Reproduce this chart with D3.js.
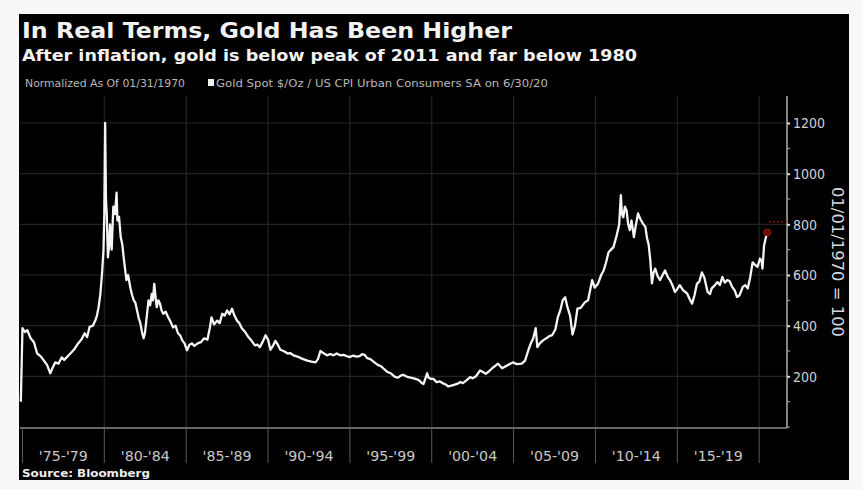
<!DOCTYPE html>
<html>
<head>
<meta charset="utf-8">
<script src="https://cdn.jsdelivr.net/npm/d3@7"></script>
<style>
  html, body { margin: 0; padding: 0; background: #f8f8f8; }
  svg { display: block; }
</style>
</head>
<body>
<svg id="chart" width="863" height="489"></svg>
<script>
// Gold spot price deflated by US CPI, normalized so 01/1970 = 100
const dates = [
  1974.9, 1975.0, 1975.15, 1975.3, 1975.5, 1975.7, 1975.9, 1976.1, 1976.3, 1976.5,
  1976.7, 1976.85, 1977.0, 1977.2, 1977.4, 1977.55, 1977.7, 1977.85, 1978.0, 1978.2,
  1978.4, 1978.6, 1978.8, 1978.95, 1979.1, 1979.3, 1979.45, 1979.55, 1979.65, 1979.75,
  1979.86, 1979.95, 1980.0, 1980.05, 1980.1, 1980.15, 1980.22, 1980.3, 1980.35, 1980.45,
  1980.55, 1980.65, 1980.75, 1980.8, 1980.9, 1981.0, 1981.1, 1981.2, 1981.35, 1981.45,
  1981.6, 1981.7, 1981.8, 1981.9, 1982.0, 1982.1, 1982.2, 1982.3, 1982.4, 1982.48,
  1982.55, 1982.65, 1982.7, 1982.8, 1982.9, 1982.97, 1983.05, 1983.12, 1983.2, 1983.3,
  1983.4, 1983.5, 1983.6, 1983.75, 1983.9, 1984.05, 1984.2, 1984.35, 1984.5, 1984.65,
  1984.75, 1984.9, 1985.05, 1985.2, 1985.35, 1985.5, 1985.7, 1985.9, 1986.1, 1986.3,
  1986.45, 1986.55, 1986.7, 1986.9, 1987.05, 1987.2, 1987.35, 1987.5, 1987.65, 1987.8,
  1987.95, 1988.1, 1988.25, 1988.4, 1988.6, 1988.8, 1989.0, 1989.2, 1989.35, 1989.5,
  1989.7, 1989.85, 1990.0, 1990.15, 1990.3, 1990.45, 1990.6, 1990.75, 1990.95, 1991.2,
  1991.35, 1991.55, 1991.8, 1992.0, 1992.15, 1992.4, 1992.65, 1992.9, 1993.05, 1993.2,
  1993.35, 1993.6, 1993.8, 1994.0, 1994.2, 1994.4, 1994.6, 1994.8, 1995.0, 1995.2,
  1995.4, 1995.6, 1995.75, 1995.9, 1996.05, 1996.25, 1996.5, 1996.7, 1996.9, 1997.1,
  1997.3, 1997.5, 1997.75, 1997.95, 1998.1, 1998.25, 1998.5, 1998.7, 1998.9, 1999.1,
  1999.25, 1999.4, 1999.5, 1999.72, 1999.8, 1999.95, 2000.1, 2000.3, 2000.5, 2000.7,
  2000.85, 2001.0, 2001.2, 2001.4, 2001.55, 2001.75, 2001.9, 2002.1, 2002.35, 2002.5,
  2002.7, 2002.95, 2003.1, 2003.3, 2003.5, 2003.75, 2003.95, 2004.05, 2004.3, 2004.6,
  2004.8, 2004.95, 2005.2, 2005.5, 2005.7, 2005.9, 2006.05, 2006.2, 2006.35, 2006.45,
  2006.6, 2006.8, 2007.0, 2007.2, 2007.35, 2007.55, 2007.7, 2007.85, 2008.0, 2008.15,
  2008.3, 2008.45, 2008.6, 2008.75, 2008.9, 2009.1, 2009.35, 2009.55, 2009.8, 2009.95,
  2010.15, 2010.35, 2010.5, 2010.65, 2010.8, 2010.95, 2011.1, 2011.3, 2011.45, 2011.55,
  2011.62, 2011.7, 2011.8, 2011.9, 2012.0, 2012.1, 2012.2, 2012.35, 2012.45, 2012.6,
  2012.75, 2012.9, 2013.05, 2013.15, 2013.25, 2013.35, 2013.45, 2013.55, 2013.65, 2013.8,
  2013.95, 2014.1, 2014.25, 2014.4, 2014.55, 2014.7, 2014.85, 2015.0, 2015.15, 2015.35,
  2015.6, 2015.75, 2015.9, 2016.05, 2016.2, 2016.35, 2016.5, 2016.65, 2016.85, 2017.0,
  2017.1, 2017.3, 2017.45, 2017.6, 2017.75, 2017.9, 2018.05, 2018.2, 2018.35, 2018.5,
  2018.65, 2018.8, 2019.0, 2019.15, 2019.3, 2019.45, 2019.6, 2019.75, 2019.9, 2020.05,
  2020.15, 2020.2, 2020.3, 2020.4, 2020.49
];

const realGold = [
  100, 390, 375, 382, 350, 335, 290, 280, 263, 245,
  212, 235, 255, 250, 275, 265, 275, 285, 295, 310,
  330, 345, 370, 355, 395, 400, 420, 440, 473, 520,
  605, 700, 840, 1200, 900, 840, 670, 720, 800, 700,
  870, 840, 925, 815, 830, 750, 720, 660, 580, 600,
  547, 520, 500, 490, 460, 430, 410, 375, 350, 370,
  410, 470, 500, 480, 525, 500, 565, 520, 473, 500,
  487, 460, 447, 455, 433, 415, 393, 400, 370, 360,
  343, 330, 303, 325, 330, 320, 330, 335, 350, 345,
  393, 433, 405, 420, 410, 447, 440, 460, 445, 467,
  440, 420, 410, 390, 375, 355, 340, 322, 325, 315,
  340, 362, 345, 305, 320, 340, 325, 305, 300, 290,
  292, 283, 278, 272, 268, 262, 258, 255, 268, 300,
  293, 283, 288, 283, 290, 283, 285, 280, 276, 282,
  278, 280, 288, 285, 272, 268, 255, 245, 240, 228,
  217, 212, 198, 195, 203, 206, 198, 195, 192, 188,
  183, 173, 170, 212, 195, 190, 190, 177, 180, 172,
  168, 160, 163, 167, 170, 178, 173, 183, 197, 192,
  200, 223, 218, 210, 220, 235, 245, 250, 232, 243,
  250, 255, 248, 250, 262, 303, 330, 350, 390, 315,
  330, 342, 350, 360, 362, 385, 433, 460, 500, 512,
  470, 440, 365, 400, 467, 470, 492, 500, 580, 550,
  565, 600, 618, 650, 690, 700, 710, 757, 800, 915,
  840, 828, 870, 855, 800, 777, 815, 750, 790, 843,
  820, 803, 790, 745, 720, 658, 567, 610, 625, 595,
  580, 600, 618, 595, 580, 560, 533, 545, 560, 540,
  527, 505, 487, 520, 565, 575, 610, 590, 533, 525,
  547, 560, 572, 560, 592, 570, 580, 575, 553, 540,
  513, 520, 553, 560, 547, 590, 650, 640, 632, 665,
  655, 625, 717, 745, 768
];

// Five-year bands along the bottom axis
const periodStarts = [1975, 1980, 1985, 1990, 1995, 2000, 2005, 2010, 2015];
const periodLabels = ["'75-'79", "'80-'84", "'85-'89", "'90-'94", "'95-'99",
                      "'00-'04", "'05-'09", "'10-'14", "'15-'19"];
const periodBounds = [1975, 1980, 1985, 1990, 1995, 2000, 2005, 2010, 2015, 2020];

const yTicks = [200, 400, 600, 800, 1000, 1200];
const yMinorTicks = [0, 100, 300, 500, 700, 900, 1100];

const titleText = "In Real Terms, Gold Has Been Higher";
const subtitleText = "After inflation, gold is below peak of 2011 and far below 1980";
const noteText = "Normalized As Of 01/31/1970";
const seriesText = "Gold Spot $/Oz / US CPI Urban Consumers SA on 6/30/20";
const axisTitle = "01/01/1970 = 100";
const sourceText = "Source: Bloomberg";

const svg = d3.select("#chart");
const boldFont = "'DejaVu Sans', Verdana, sans-serif";
const narrowFont = "'Liberation Sans Narrow', 'DejaVu Sans Condensed', 'Open Sans', sans-serif";

// Dark panel
svg.append("rect").attr("x", 19).attr("y", 14).attr("width", 830).attr("height", 466)
  .attr("fill", "#000");

const x = d3.scaleLinear().domain([1974.85, 2021.7]).range([20, 787]);
const y = d3.scaleLinear().domain([0, 1200]).range([427, 123]);
const plotTop = 96, plotBottom = 428, axisX = 787;

// Headings
svg.append("text").attr("x", 22).attr("y", 38).text(titleText)
  .attr("font-family", boldFont).attr("font-weight", "bold").attr("font-size", 21)
  .attr("fill", "#f2f2f2").attr("textLength", 490).attr("lengthAdjust", "spacingAndGlyphs");
svg.append("text").attr("x", 22).attr("y", 61).text(subtitleText)
  .attr("font-family", boldFont).attr("font-weight", "bold").attr("font-size", 16)
  .attr("fill", "#f2f2f2").attr("textLength", 615).attr("lengthAdjust", "spacingAndGlyphs");

// Legend line
svg.append("text").attr("x", 25).attr("y", 87).text(noteText)
  .attr("font-family", narrowFont).attr("font-size", 11).attr("fill", "#b8b8b8")
  .attr("textLength", 160).attr("lengthAdjust", "spacingAndGlyphs");
svg.append("rect").attr("x", 208).attr("y", 79).attr("width", 6).attr("height", 7)
  .attr("fill", "#f0f0f0");
svg.append("text").attr("x", 216).attr("y", 87).text(seriesText)
  .attr("font-family", narrowFont).attr("font-size", 11).attr("fill", "#b8b8b8")
  .attr("textLength", 332).attr("lengthAdjust", "spacingAndGlyphs");

// Grid
const grid = svg.append("g");
grid.selectAll("line.h").data(yTicks).join("line")
  .attr("x1", 20).attr("x2", axisX).attr("y1", d => y(d)).attr("y2", d => y(d))
  .attr("stroke", "#242424").attr("stroke-width", 1.2);
grid.selectAll("line.v").data(periodBounds.slice(1)).join("line")
  .attr("x1", d => x(d)).attr("x2", d => x(d)).attr("y1", plotTop).attr("y2", plotBottom)
  .attr("stroke", "#242424").attr("stroke-width", 1.2);

// Bottom axis: line, band separators, labels
svg.append("line").attr("x1", 20).attr("x2", axisX).attr("y1", plotBottom).attr("y2", plotBottom)
  .attr("stroke", "#8a8a8a").attr("stroke-width", 1.3);
svg.append("g").selectAll("line").data(periodBounds).join("line")
  .attr("x1", d => x(d)).attr("x2", d => x(d)).attr("y1", plotBottom).attr("y2", 463)
  .attr("stroke", "#5a5a5a").attr("stroke-width", 1);
svg.append("g").selectAll("text").data(periodStarts).join("text")
  .attr("x", d => x(d + 2.5)).attr("y", 461).attr("text-anchor", "middle")
  .text((d, i) => periodLabels[i])
  .attr("font-family", narrowFont).attr("font-size", 14).attr("fill", "#c8c8c8")
  .attr("textLength", 49).attr("lengthAdjust", "spacingAndGlyphs");

// Right value axis
const yAxis = d3.axisRight(y).tickValues(yTicks).tickFormat(d3.format("d"))
  .tickSize(3).tickPadding(3);
const yg = svg.append("g").attr("transform", `translate(${axisX},0)`).call(yAxis);
yg.select(".domain").remove();
yg.selectAll(".tick line").attr("stroke", "#dddddd").attr("stroke-width", 2);
yg.selectAll(".tick text").attr("fill", "#d0d0d0").attr("font-size", 14)
  .attr("font-family", narrowFont).attr("dy", "0.34em");
svg.append("line").attr("x1", axisX).attr("x2", axisX).attr("y1", plotTop).attr("y2", plotBottom)
  .attr("stroke", "#c8c8c8").attr("stroke-width", 1.3);
svg.append("g").selectAll("line").data(yMinorTicks).join("line")
  .attr("x1", axisX).attr("x2", axisX + 3).attr("y1", d => y(d)).attr("y2", d => y(d))
  .attr("stroke", "#aaaaaa").attr("stroke-width", 1);

svg.append("text")
  .attr("transform", `translate(832,262) rotate(90)`)
  .attr("text-anchor", "middle").text(axisTitle)
  .attr("font-family", narrowFont).attr("font-size", 16).attr("fill", "#d8d8d8")
  .attr("textLength", 150).attr("lengthAdjust", "spacingAndGlyphs");

// Series line
const series = dates.map((d, i) => ({ t: d, v: realGold[i] }));
const line = d3.line().x(d => x(d.t)).y(d => y(d.v));
svg.append("path").datum(series).attr("d", line)
  .attr("fill", "none").attr("stroke", "#f4f4f4").attr("stroke-width", 2.3)
  .attr("stroke-linejoin", "round");

// Last-value marker
const last = series[series.length - 1];
svg.append("line").attr("x1", x(last.t) + 2).attr("x2", axisX)
  .attr("y1", y(810)).attr("y2", y(810))
  .attr("stroke", "#9a1010").attr("stroke-width", 1.5).attr("stroke-dasharray", "2,2");
svg.append("circle").attr("cx", x(last.t)).attr("cy", y(last.v)).attr("r", 3.5)
  .attr("fill", "#6a0808").attr("stroke", "#a01414").attr("stroke-width", 1);

// Source
svg.append("text").attr("x", 22).attr("y", 477).text(sourceText)
  .attr("font-family", boldFont).attr("font-weight", "bold").attr("font-size", 11)
  .attr("fill", "#eeeeee").attr("textLength", 128).attr("lengthAdjust", "spacingAndGlyphs");
</script>
</body>
</html>
